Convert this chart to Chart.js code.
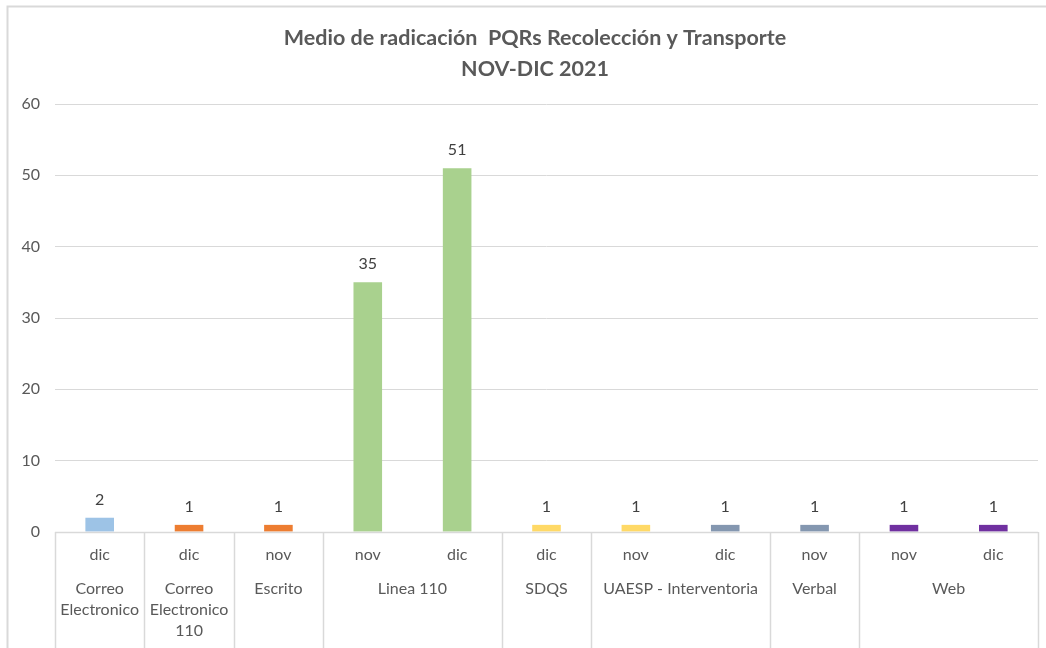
<!DOCTYPE html>
<html>
<head>
<meta charset="utf-8">
<script src="https://cdn.jsdelivr.net/npm/chart.js@4"></script>
<style>
    html, body { margin: 0; padding: 0; background: #fff; }
    #wrap { width: 1046px; height: 648px; }
</style>
</head>
<body>
<div id="wrap"><canvas id="pqrChart" width="1046" height="648"></canvas></div>
<script>
// Data
const months = ['dic', 'dic', 'nov', 'nov', 'dic', 'dic', 'nov', 'dic', 'nov', 'nov', 'dic'];
const values = [2, 1, 1, 35, 51, 1, 1, 1, 1, 1, 1];
const groupLabels = [
    ['Correo', 'Electronico'],
    ['Correo', 'Electronico', '110'],
    ['Escrito'],
    ['Linea 110'],
    ['SDQS'],
    ['UAESP - Interventoria'],
    ['Verbal'],
    ['Web']
];
const groupSpans = [1, 1, 1, 2, 1, 2, 1, 2];
const titleLines = ['Medio de radicación  PQRs Recolección y Transporte', 'NOV-DIC 2021'];

// Colors
const colors = {
    blue: '#9dc3e6',
    orange: '#ed7d31',
    green: '#a9d18e',
    yellow: '#ffd966',
    slate: '#8497b0',
    purple: '#7030a0'
};
const barColors = [colors.blue, colors.orange, colors.orange, colors.green, colors.green,
    colors.yellow, colors.yellow, colors.slate, colors.slate, colors.purple, colors.purple];

const fontFamily = "Lato, 'Liberation Sans', sans-serif";
const textColor = '#595959';
const lineColor = '#d9d9d9';

// frame, title, data labels and the second level of the category axis
const excelPlugin = {
    id: 'excelLook',
    beforeDraw(chart) {
        const ctx = chart.ctx;
        ctx.save();
        ctx.strokeStyle = lineColor;
        ctx.lineWidth = 2;
        ctx.beginPath();
        ctx.moveTo(7.5, 648);
        ctx.lineTo(7.5, 6.5);
        ctx.lineTo(1046, 6.5);
        ctx.stroke();

        ctx.fillStyle = textColor;
        ctx.font = `bold 21.5px ${fontFamily}`;
        ctx.textAlign = 'center';
        ctx.textBaseline = 'middle';
        titleLines.forEach((t, i) => ctx.fillText(t, 535, 38 + i * 31));
        ctx.restore();
    },
    afterDatasetsDraw(chart) {
        const ctx = chart.ctx;
        const meta = chart.getDatasetMeta(0);
        const xScale = chart.scales.x;
        const bottom = chart.chartArea.bottom;
        ctx.save();

        // value labels
        ctx.fillStyle = '#404040';
        ctx.font = `16px ${fontFamily}`;
        ctx.textAlign = 'center';
        ctx.textBaseline = 'bottom';
        meta.data.forEach((bar, i) => {
            ctx.fillText(values[i], bar.x, bar.y - 10);
        });

        // group separators and labels
        const step = xScale.getPixelForValue(1) - xScale.getPixelForValue(0);
        ctx.strokeStyle = lineColor;
        ctx.lineWidth = 1.5;
        let idx = 0;
        const edges = [xScale.getPixelForValue(0) - step / 2];
        groupSpans.forEach((span, g) => {
            const left = xScale.getPixelForValue(idx) - step / 2;
            const right = xScale.getPixelForValue(idx + span - 1) + step / 2;
            edges.push(right);
            ctx.fillStyle = textColor;
            ctx.font = `16px ${fontFamily}`;
            ctx.textBaseline = 'middle';
            groupLabels[g].forEach((line, k) => {
                ctx.fillText(line, (left + right) / 2, bottom + 57 + k * 21);
            });
            idx += span;
        });
        edges.forEach(x => {
            const px = Math.round(x) + 0.5;
            ctx.beginPath();
            ctx.moveTo(px, bottom);
            ctx.lineTo(px, 648);
            ctx.stroke();
        });
        ctx.beginPath();
        ctx.moveTo(edges[0], bottom + 0.5);
        ctx.lineTo(edges[edges.length - 1], bottom + 0.5);
        ctx.stroke();
        ctx.restore();
    }
};

new Chart(document.getElementById('pqrChart').getContext('2d'), {
    type: 'bar',
    data: {
        labels: months,
        datasets: [{
            data: values,
            backgroundColor: barColors,
            borderWidth: 0,
            barPercentage: 0.32,
            categoryPercentage: 1
        }]
    },
    options: {
        responsive: false,
        animation: false,
        devicePixelRatio: 1,
        layout: { padding: { top: 104, left: 0, right: 8, bottom: 0 } },
        plugins: {
            legend: { display: false },
            title: { display: false },
            tooltip: { enabled: false }
        },
        scales: {
            x: {
                grid: { display: false, drawTicks: false },
                border: { display: false },
                ticks: {
                    color: textColor,
                    font: { family: fontFamily, size: 16 },
                    padding: 13,
                    maxRotation: 0,
                    autoSkip: false
                },
                afterFit: (scale) => { scale.height = 116; }
            },
            y: {
                min: 0,
                max: 60,
                ticks: {
                    stepSize: 10,
                    color: textColor,
                    font: { family: fontFamily, size: 16 },
                    padding: 15
                },
                grid: { color: lineColor, lineWidth: 1, drawTicks: false },
                border: { display: false },
                afterFit: (scale) => { scale.width = 55; }
            }
        }
    },
    plugins: [excelPlugin]
});
</script>
</body>
</html>
